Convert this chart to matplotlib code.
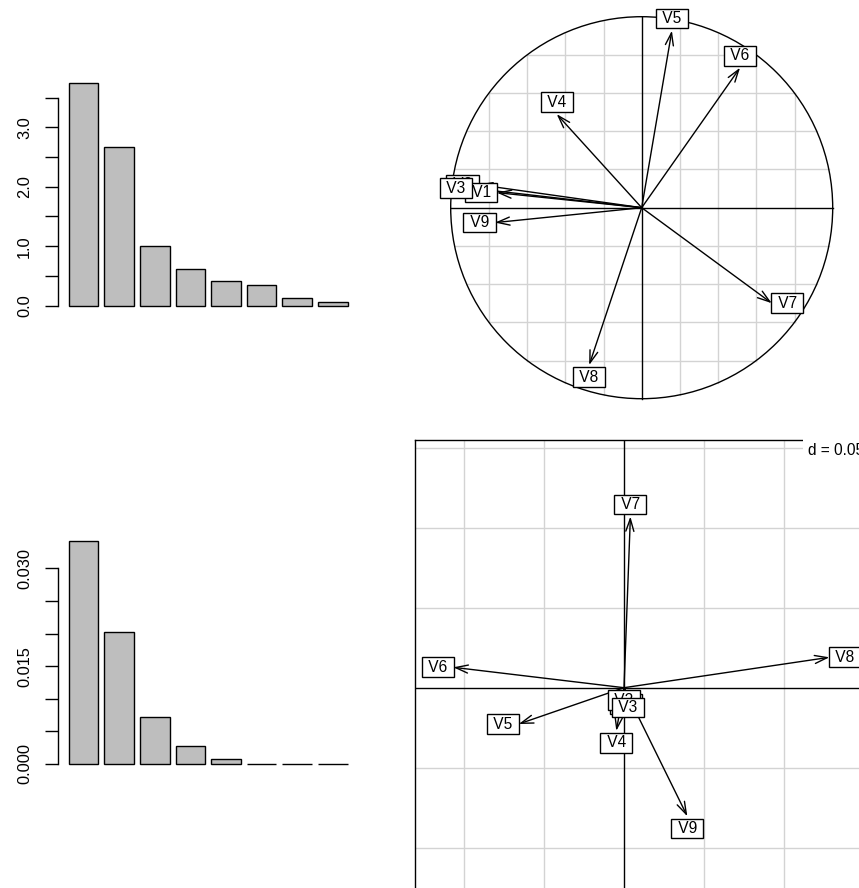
import numpy as np
import matplotlib
matplotlib.use("Agg")
import matplotlib.pyplot as plt
from matplotlib.patches import FancyArrowPatch, Circle

plt.rcParams['font.family'] = ['Liberation Sans', 'DejaVu Sans']

W, H, DPI = 859, 888, 100

# ---------------- data ----------------
eig_top = [3.74, 2.67, 1.01, 0.62, 0.42, 0.34, 0.13, 0.07]
eig_bottom = [0.0342, 0.0203, 0.00716, 0.0028, 0.00072, 0.00006, 0.00004, 0.00002]
var_names = ["V1", "V2", "V3", "V4", "V5", "V6", "V7", "V8", "V9"]
cor_x = [-0.759, -0.857, -0.890, -0.445, 0.158, 0.515, 0.681, -0.275, -0.768]
cor_y = [0.079, 0.121, 0.102, 0.490, 0.927, 0.733, -0.500, -0.824, -0.078]
arr_x = [0.0012, 0.0001, 0.0024, -0.0048, -0.0658, -0.1067, 0.0040, 0.1284, 0.0396]
arr_y = [-0.0028, -0.0003, -0.0049, -0.0270, -0.0227, 0.01275, 0.1070, 0.0190, -0.0804]
top_ticks = [0.0, 0.5, 1.0, 1.5, 2.0, 2.5, 3.0, 3.5]
top_ticklabels = ["0.0", "", "1.0", "", "2.0", "", "3.0", ""]
bot_ticks = [0.0, 0.005, 0.010, 0.015, 0.020, 0.025, 0.030]
bot_ticklabels = ["0.000", "", "", "0.015", "", "", "0.030"]
grid_step = 0.05

LABEL_FS = 11.2
TICK_FS = 11.8


def px_axes(x0, y0, x1, y1):
    return [x0 / W, 1 - y1 / H, (x1 - x0) / W, (y1 - y0) / H]


fig = plt.figure(figsize=(W / DPI, H / DPI), dpi=DPI)

BX = 29.67  # px per bar unit


def barpanel(y0px, y1px, values, ylim, ticks, ticklabels, bound):
    n = len(values)
    lo, hi = 0.2, 1.2 * n
    ext = 0.04 * (hi - lo)
    xl = (lo - ext, hi + ext)
    ax = fig.add_axes(px_axes(57.6, y0px, 57.6 + (xl[1] - xl[0]) * BX, y1px))
    centers = 0.7 + 1.2 * np.arange(n)
    ax.bar(centers, values, width=1.0, color="#BEBEBE", edgecolor="black",
           linewidth=1.0)
    ax.set_xlim(*xl)
    ax.set_ylim(*ylim)
    for s in ["top", "right", "bottom"]:
        ax.spines[s].set_visible(False)
    ax.spines["left"].set_bounds(bound[0], bound[1])
    ax.spines["left"].set_linewidth(1.0)
    ax.set_xticks([])
    ax.set_yticks(ticks)
    ax.set_yticklabels(ticklabels)
    ax.tick_params(axis="y", length=9.4, width=1.0, pad=9, labelsize=TICK_FS)
    for t in ax.get_yticklabels():
        t.set_rotation(90)
        t.set_va("center")
    ax.patch.set_visible(False)
    return ax


# top-left bar chart
s1 = 59.47
barpanel(305.7 - 3.9 * s1, 305.7 + 0.15 * s1,
         eig_top, (-0.15, 3.9), top_ticks, top_ticklabels, (0, 3.5))

# bottom-left bar chart
s2 = 6522.0
ymax2 = max(eig_bottom) * 1.04
ymin2 = -max(eig_bottom) * 0.04
barpanel(764 - ymax2 * s2, 764 - ymin2 * s2,
         eig_bottom, (ymin2, ymax2), bot_ticks, bot_ticklabels, (0, 0.03))


def draw_arrows(ax, xs, ys, names, zorders=None):
    trans = ax.transData
    o = trans.transform((0, 0))
    h = 10.7  # pixel height of "A"
    for i, (x, y) in enumerate(zip(xs, ys)):
        p = trans.transform((x, y))
        d = np.hypot(*(p - o))
        style = "->,head_length=9,head_width=2.9" if d > 2 * h else "-"
        arr = FancyArrowPatch((0, 0), (x, y), arrowstyle=style,
                              mutation_scale=1, color="black", lw=1.0,
                              shrinkA=0, shrinkB=0, zorder=3,
                              clip_on=False)
        ax.add_patch(arr)
    for i, (x, y, nm) in enumerate(zip(xs, ys, names)):
        if (x > y) and (x > -y):
            off = (15.5, 0)
        elif (x > y) and (x <= -y):
            off = (0, -12)
        elif (x <= y) and (x <= -y):
            off = (-15.5, 0)
        else:
            off = (0, 12)
        z = 4 + (zorders[i] if zorders else i)
        ax.annotate(" " + nm + " ", xy=(x, y), xytext=off,
                    textcoords="offset pixels", ha="center", va="center",
                    fontsize=LABEL_FS, zorder=z, annotation_clip=False,
                    bbox=dict(boxstyle="square,pad=0.15", fc="white",
                              ec="black", lw=1.0))


# top-right correlation circle
cx, cy, r = 641.7, 207.7, 191.0
axc = fig.add_axes(px_axes(cx - 1.1 * r, cy - 1.1 * r, cx + 1.1 * r, cy + 1.1 * r))
axc.set_xlim(-1.1, 1.1)
axc.set_ylim(-1.1, 1.1)
axc.axis("off")
for v in [-0.8, -0.6, -0.4, -0.2, 0.2, 0.4, 0.6, 0.8]:
    e = np.sqrt(1 - v * v)
    axc.plot([v, v], [-e, e], color="#D3D3D3", lw=1.0, zorder=1)
    axc.plot([-e, e], [v, v], color="#D3D3D3", lw=1.0, zorder=1)
axc.plot([-1, 1], [0, 0], color="black", lw=1.0, zorder=2)
axc.plot([0, 0], [-1, 1], color="black", lw=1.0, zorder=2)
axc.add_patch(Circle((0, 0), 1.0, fill=False, ec="black", lw=1.0, zorder=2))
draw_arrows(axc, cor_x, cor_y, var_names, zorders=[1, 0, 2, 3, 4, 5, 6, 7, 8])

# bottom-right arrow plot
bx0, by0, bs = 624.0, 687.7, 1600.0
xl = (-0.1308, 0.152)
yl = (-0.1548, 0.1548)
axa = fig.add_axes(px_axes(bx0 + xl[0] * bs, by0 - yl[1] * bs,
                           bx0 + xl[1] * bs, by0 - yl[0] * bs))
axa.set_xlim(*xl)
axa.set_ylim(*yl)
axa.set_xticks([])
axa.set_yticks([])
for s in axa.spines.values():
    s.set_linewidth(1.0)
for k in range(-3, 4):
    g = k * grid_step
    if k != 0:
        axa.axvline(g, color="#D3D3D3", lw=1.0, zorder=1)
        axa.axhline(g, color="#D3D3D3", lw=1.0, zorder=1)
axa.axvline(0, color="black", lw=1.0, zorder=2)
axa.axhline(0, color="black", lw=1.0, zorder=2)
axa.annotate("d = %g" % grid_step, xy=(1, 1), xycoords="axes fraction",
             xytext=(-3, -3), textcoords="offset pixels", ha="right", va="top",
             fontsize=LABEL_FS, zorder=20,
             bbox=dict(boxstyle="square,pad=0.3", fc="white", ec="none"))
draw_arrows(axa, arr_x, arr_y, var_names)

fig.savefig("out.png", dpi=DPI)
